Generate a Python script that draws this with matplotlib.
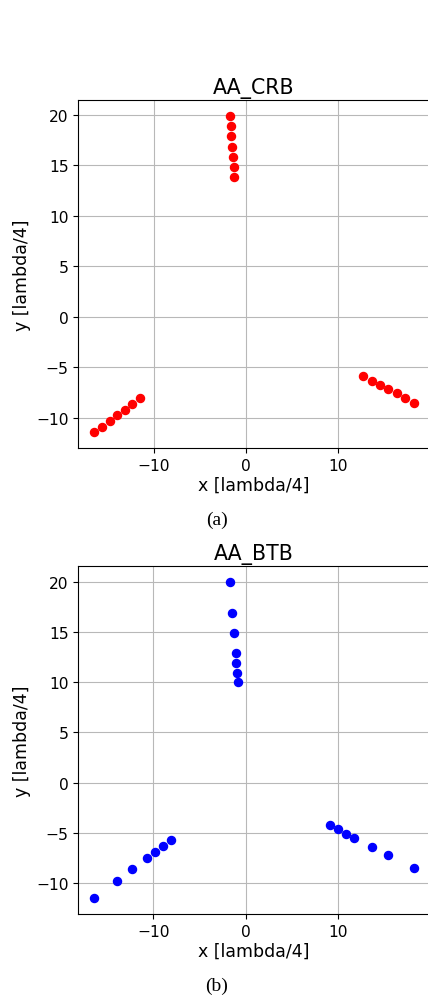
import matplotlib
matplotlib.use("Agg")
import matplotlib.pyplot as plt

# antenna positions
crb_x = [-1.78, -1.67, -1.59, -1.48, -1.41, -1.30, -1.24,
         -16.40, -15.57, -14.70, -13.91, -13.11, -12.29, -11.48,
         12.71, 13.61, 14.47, 15.38, 16.36, 17.26, 18.13]
crb_y = [19.93, 18.88, 17.89, 16.83, 15.84, 14.85, 13.86,
         -11.45, -10.96, -10.30, -9.77, -9.24, -8.61, -8.08,
         -5.91, -6.37, -6.80, -7.20, -7.59, -8.09, -8.51]

btb_x = [-1.76, -1.46, -1.28, -1.06, -1.06, -0.95, -0.85,
         -16.40, -13.90, -12.28, -10.68, -9.82, -8.98, -8.11,
         9.13, 10.00, 10.87, 11.77, 13.64, 15.42, 18.17]
btb_y = [19.94, 16.90, 14.92, 12.94, 11.95, 10.96, 9.97,
         -11.46, -9.74, -8.58, -7.42, -6.86, -6.30, -5.70,
         -4.19, -4.62, -5.08, -5.51, -6.33, -7.13, -8.48]

titles = ["AA_CRB", "AA_BTB"]
captions = ["(a)", "(b)"]
colors = ["red", "blue"]

W, H = 428, 1003
fig = plt.figure(figsize=(W / 100, H / 100), dpi=100)

# axes boxes in pixels: left, top, right, bottom
boxes = [(78.4, 100.7, 429.5, 449.0), (78.4, 567.3, 429.5, 915.0)]
cap_y = [520, 986]

for i, (xs, ys) in enumerate([(crb_x, crb_y), (btb_x, btb_y)]):
    l, t, r, b = boxes[i]
    ax = fig.add_axes([l / W, 1 - b / H, (r - l) / W, (b - t) / H])
    ax.plot(xs, ys, "o", color=colors[i], ms=5.8, zorder=3)
    ax.grid(True, color="#b8b8b8", lw=0.8)
    ax.set_axisbelow(True)
    ax.spines["right"].set_visible(False)  # cut off in the original crop
    ax.set_title(titles[i], fontsize=14.8, pad=5)
    ax.set_xlabel("x [lambda/4]", fontsize=12.5, labelpad=2)
    ax.set_ylabel("y [lambda/4]", fontsize=12.5, labelpad=4)
    ax.tick_params(labelsize=11.2)
    ax.set_xticks([-10, 0, 10])
    ax.set_yticks([-10, -5, 0, 5, 10, 15, 20])
    fig.text(217 / W, 1 - cap_y[i] / H, captions[i], ha="center", va="center",
             fontsize=14, family="Liberation Serif")

fig.savefig("out.png", dpi=100)
